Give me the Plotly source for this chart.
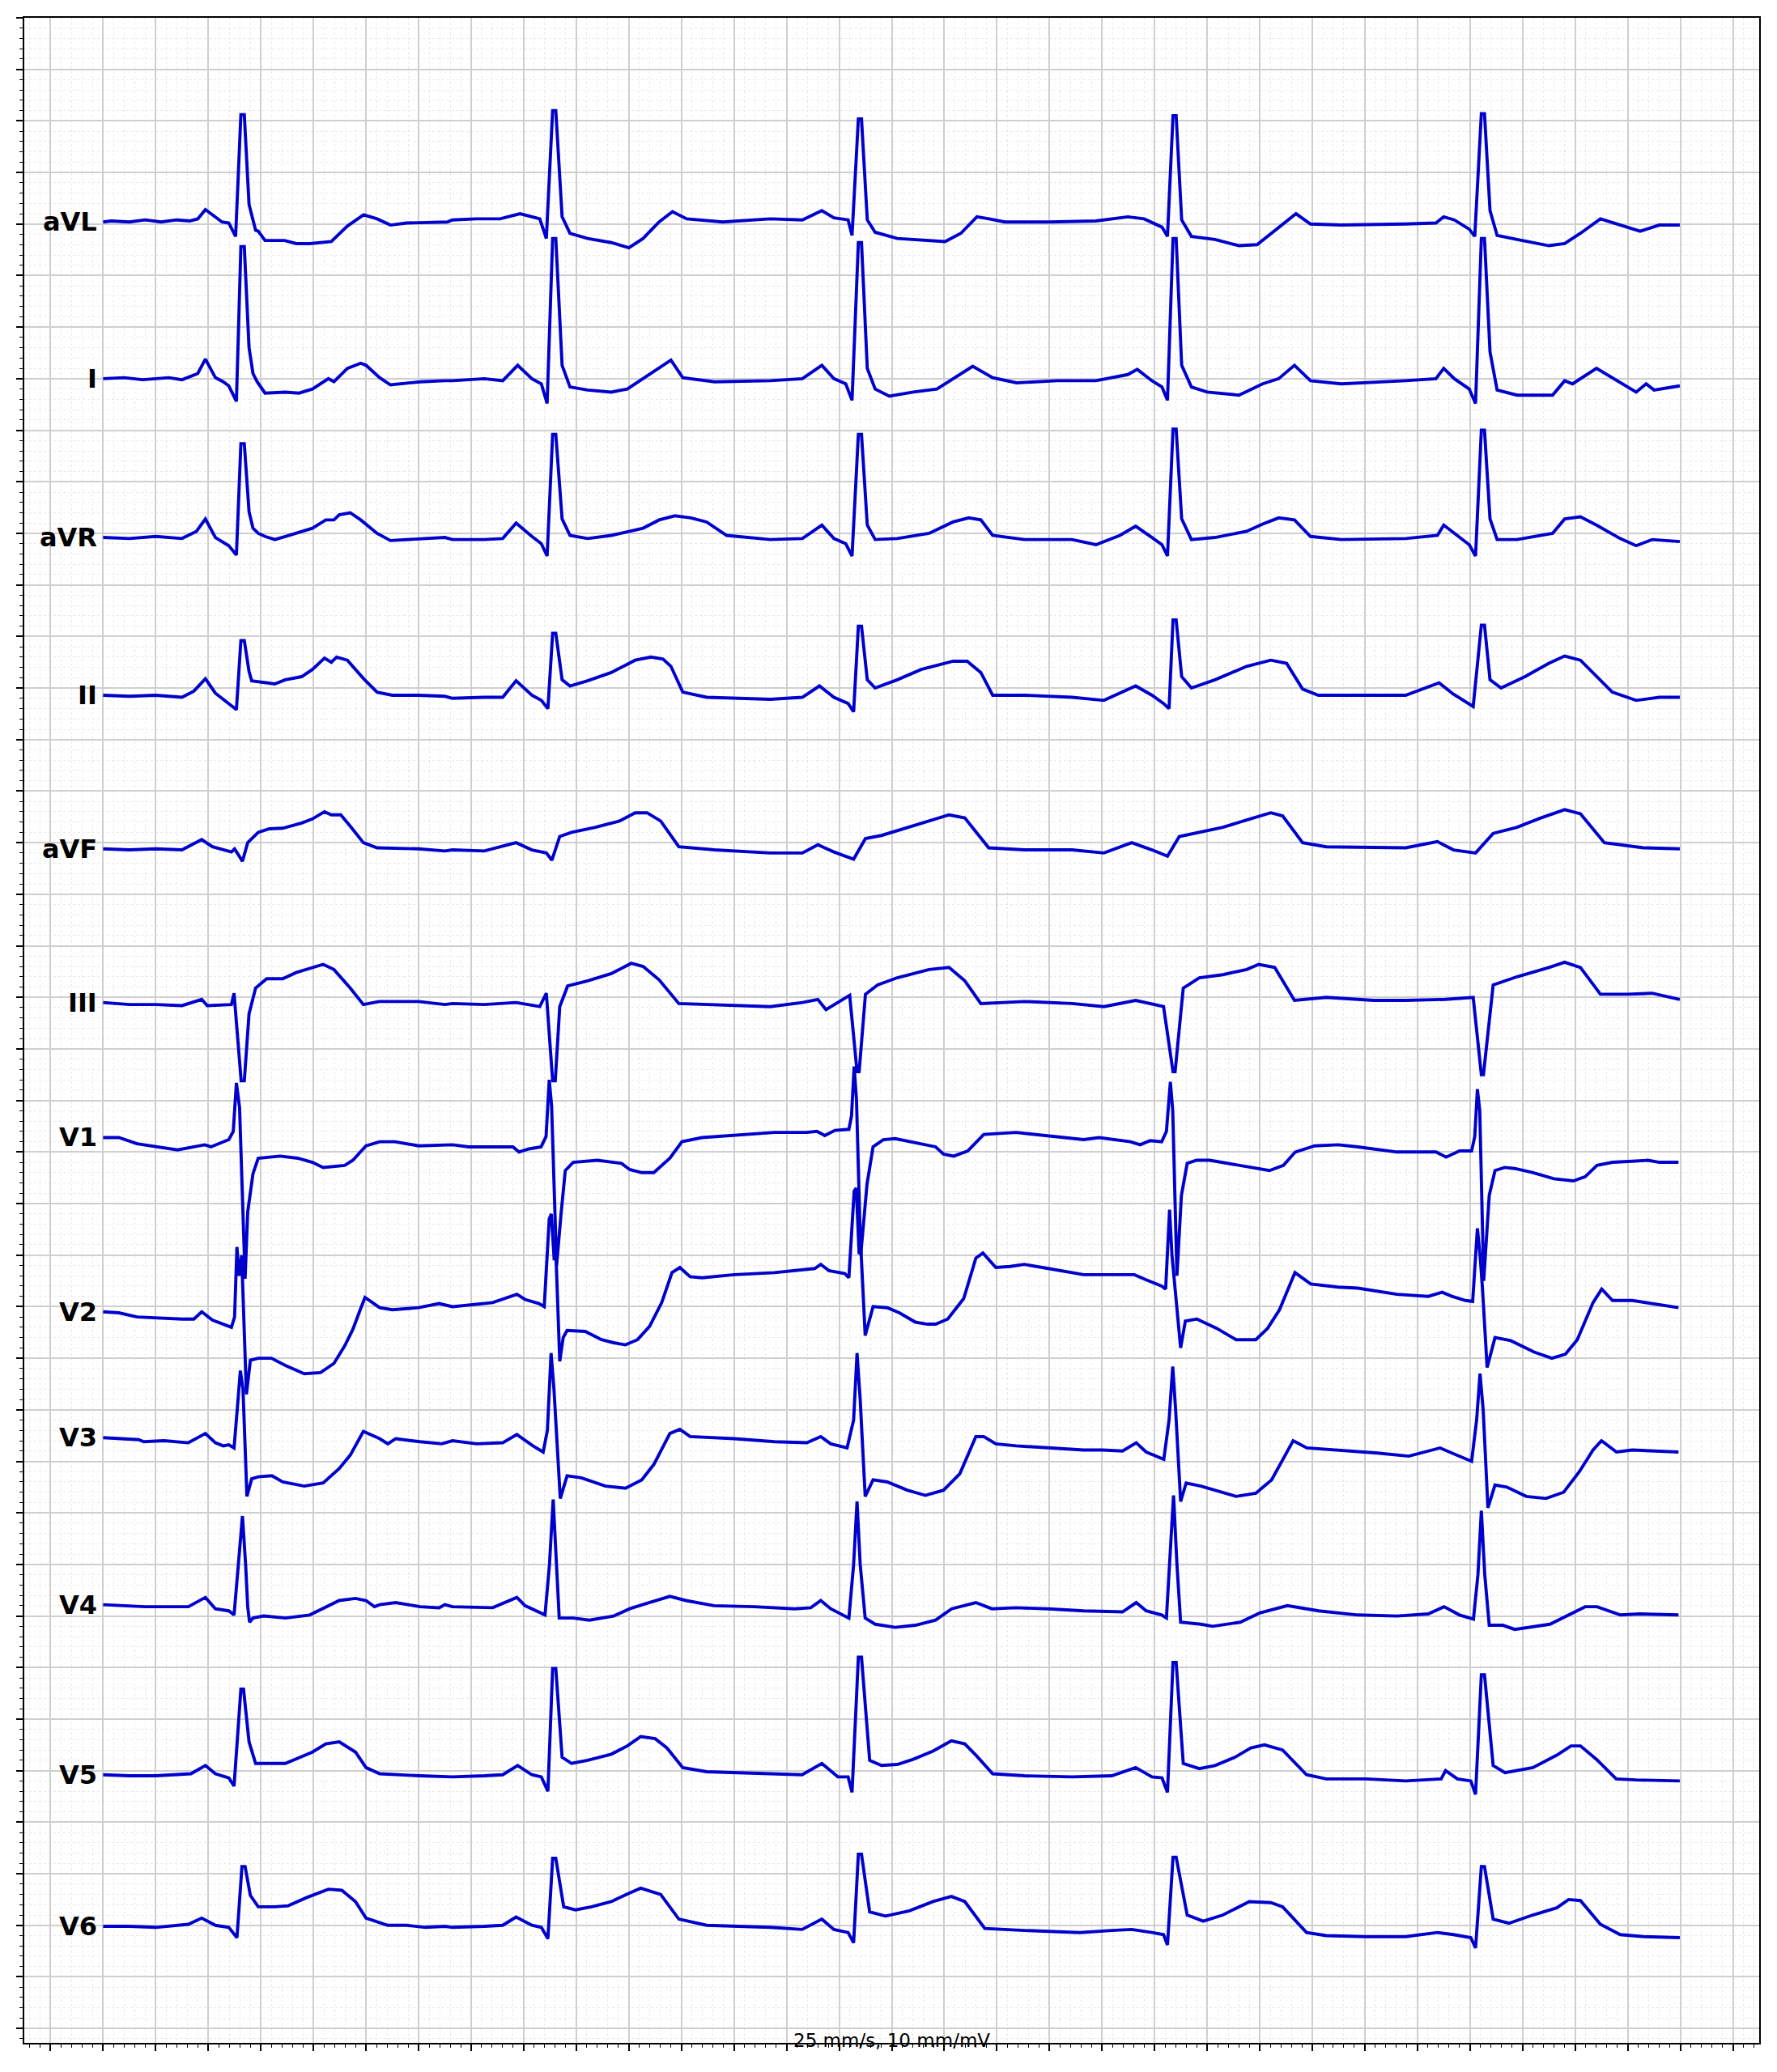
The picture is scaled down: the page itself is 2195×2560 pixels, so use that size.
import plotly.graph_objects as go

# 12-lead ECG strip, 25 mm/s, 10 mm/mV. values are (time s, mV)
lead_names = ["aVL", "I", "aVR", "II", "aVF", "III", "V1", "V2", "V3", "V4", "V5", "V6"]
lead_gap = 1.5  # mV between stacked leads

avl_pts = [
    (0, .02), (.03, .03), (.1, .02), (.16, .04), (.22, .02), (.28, .04), (.33, .03), (.36, .05), (.389, .14),
    (.427, .07), (.452, .02), (.478, .01), (.504, -.12), (.524, 1.06), (.537, 1.06), (.555, .19), (.58, -.06),
    (.59, -.07), (.616, -.16), (.69, -.16), (.735, -.19), (.786, -.19), (.868, -.17), (.929, -.02), (.991, .09),
    (1.042, .05), (1.093, -.01), (1.155, .01), (1.309, .02), (1.329, .04), (1.42, .05), (1.51, .05), (1.586, .10),
    (1.661, .05), (1.686, -.14), (1.71, 1.10), (1.722, 1.10), (1.746, .07), (1.776, -.09), (1.843, -.14),
    (1.933, -.18), (2.0, -.23), (2.054, -.14), (2.115, .02), (2.166, .12), (2.22, .05), (2.357, .02), (2.538, .05),
    (2.66, .04), (2.734, .13), (2.78, .06), (2.834, .04), (2.849, -.11), (2.873, 1.02), (2.885, 1.02), (2.907, .04),
    (2.937, -.08), (3.021, -.14), (3.08, -.15), (3.203, -.17), (3.263, -.09), (3.324, .07), (3.37, .05), (3.43, .02),
    (3.6, .02), (3.777, .03), (3.898, .07), (3.96, .05), (4.028, -.03), (4.049, -.12), (4.07, 1.05), (4.082, 1.05),
    (4.103, .04), (4.14, -.12), (4.23, -.15), (4.321, -.21), (4.39, -.2), (4.457, -.06), (4.538, .10), (4.593, 0),
    (4.71, -.01), (4.955, 0), (5.07, .01), (5.1, .07), (5.14, .04), (5.197, -.05), (5.218, -.12), (5.243, 1.07),
    (5.255, 1.07), (5.276, .13), (5.303, -.11), (5.379, -.15), (5.5, -.21), (5.56, -.19), (5.62, -.09), (5.696, .05),
    (5.771, -.01), (5.847, -.07), (5.92, -.01), (5.998, -.01),
]
i_pts = [
    (0, 0), (.08, .01), (.15, -.01), (.25, .01), (.3, -.01), (.36, .05), (.389, .19), (.427, .01), (.457, -.03),
    (.478, -.07), (.507, -.22), (.524, 1.28), (.537, 1.28), (.555, .30), (.57, .05), (.586, -.03), (.616, -.14),
    (.693, -.13), (.745, -.14), (.796, -.10), (.857, 0), (.878, -.03), (.929, .10), (.98, .15), (1.0, .13),
    (1.052, .01), (1.093, -.06), (1.206, -.03), (1.30, -.02), (1.329, -.02), (1.45, 0), (1.52, -.02), (1.577, .13),
    (1.631, 0), (1.667, -.05), (1.689, -.24), (1.71, 1.36), (1.722, 1.36), (1.746, .13), (1.776, -.08),
    (1.843, -.11), (1.933, -.13), (1.994, -.10), (2.054, 0), (2.115, .10), (2.16, .18), (2.205, .01), (2.326, -.03),
    (2.538, -.02), (2.66, 0), (2.734, .13), (2.78, 0), (2.825, -.05), (2.849, -.21), (2.873, 1.32), (2.885, 1.32),
    (2.907, .10), (2.937, -.10), (2.991, -.17), (3.082, -.13), (3.172, -.10), (3.233, 0), (3.308, .12),
    (3.384, .01), (3.475, -.04), (3.63, -.02), (3.777, -.02), (3.898, .04), (3.934, .09), (3.99, -.02),
    (4.028, -.08), (4.049, -.21), (4.07, 1.36), (4.082, 1.36), (4.103, .13), (4.14, -.08), (4.2, -.13),
    (4.321, -.16), (4.411, -.05), (4.472, 0), (4.532, .13), (4.593, -.02), (4.71, -.05), (4.955, -.02), (5.07, 0),
    (5.1, .10), (5.14, 0), (5.197, -.10), (5.221, -.24), (5.243, 1.36), (5.255, 1.36), (5.276, .26), (5.303, -.11),
    (5.379, -.16), (5.514, -.16), (5.56, -.02), (5.59, -.05), (5.681, .10), (5.741, .01), (5.832, -.13),
    (5.87, -.05), (5.9, -.11), (5.998, -.07),
]
avr_pts = [
    (0, -.04), (.1, -.05), (.2, -.03), (.3, -.05), (.355, .02), (.389, .14), (.427, -.04), (.478, -.12),
    (.507, -.21), (.524, .87), (.537, .87), (.555, .21), (.57, .05), (.59, 0), (.616, -.03), (.653, -.06),
    (.693, -.03), (.796, .05), (.847, .13), (.878, .13), (.898, .18), (.94, .20), (.98, .13), (1.042, 0),
    (1.093, -.07), (1.206, -.05), (1.30, -.04), (1.329, -.06), (1.45, -.06), (1.52, -.05), (1.571, .10),
    (1.631, -.03), (1.667, -.10), (1.689, -.22), (1.71, .96), (1.722, .96), (1.746, .14), (1.776, -.02),
    (1.843, -.05), (1.933, -.02), (2.054, .05), (2.115, .13), (2.175, .17), (2.236, .15), (2.296, .11),
    (2.372, -.02), (2.538, -.06), (2.66, -.05), (2.734, .08), (2.78, -.05), (2.825, -.10), (2.849, -.22),
    (2.873, .96), (2.885, .96), (2.907, .08), (2.937, -.06), (3.021, -.05), (3.142, 0), (3.233, .11), (3.293, .15),
    (3.339, .13), (3.384, -.02), (3.505, -.06), (3.686, -.06), (3.777, -.11), (3.868, -.02), (3.928, .07),
    (3.99, -.04), (4.028, -.11), (4.049, -.22), (4.07, 1.01), (4.082, 1.01), (4.103, .14), (4.14, -.06),
    (4.23, -.04), (4.35, .02), (4.411, .09), (4.472, .15), (4.532, .13), (4.593, -.03), (4.71, -.06),
    (4.955, -.05), (5.076, -.02), (5.1, .08), (5.152, -.02), (5.197, -.11), (5.221, -.22), (5.243, 1.0),
    (5.255, 1.0), (5.276, .14), (5.303, -.06), (5.379, -.06), (5.514, 0), (5.56, .14), (5.62, .16), (5.681, .08),
    (5.771, -.05), (5.832, -.12), (5.893, -.06), (5.998, -.08),
]
ii_pts = [
    (0, -.07), (.1, -.08), (.2, -.07), (.3, -.09), (.345, -.03), (.389, .09), (.427, -.05), (.478, -.15),
    (.507, -.21), (.524, .46), (.537, .46), (.555, .16), (.565, .07), (.653, .04), (.693, .08), (.755, .11),
    (.796, .18), (.842, .29), (.868, .25), (.888, .30), (.929, .27), (.991, .09), (1.042, -.04), (1.10, -.07),
    (1.2, -.07), (1.30, -.08), (1.329, -.10), (1.45, -.09), (1.52, -.09), (1.571, .07), (1.631, -.07),
    (1.667, -.12), (1.692, -.20), (1.71, .53), (1.722, .53), (1.746, .08), (1.776, .02), (1.843, .07),
    (1.933, .15), (2.024, .27), (2.084, .30), (2.13, .28), (2.16, .21), (2.205, -.04), (2.296, -.09),
    (2.538, -.11), (2.66, -.09), (2.725, .02), (2.78, -.09), (2.834, -.15), (2.855, -.23), (2.873, .60),
    (2.885, .60), (2.907, .08), (2.937, 0), (3.021, .08), (3.112, .18), (3.233, .26), (3.287, .26), (3.339, .15),
    (3.384, -.07), (3.505, -.07), (3.686, -.09), (3.807, -.12), (3.928, .02), (3.99, -.07), (4.034, -.15),
    (4.055, -.20), (4.07, .66), (4.082, .66), (4.103, .11), (4.14, 0), (4.23, .08), (4.35, .21), (4.442, .27),
    (4.502, .24), (4.563, -.01), (4.623, -.07), (4.804, -.07), (4.955, -.07), (5.082, .05), (5.137, -.06),
    (5.212, -.18), (5.243, .61), (5.255, .61), (5.276, .08), (5.318, 0), (5.409, .11), (5.5, .24), (5.56, .31),
    (5.62, .27), (5.681, .11), (5.741, -.04), (5.832, -.12), (5.92, -.09), (5.998, -.09),
]
avf_pts = [
    (0, -.06), (.1, -.07), (.2, -.06), (.3, -.07), (.375, .03), (.416, -.04), (.488, -.09), (.50, -.06),
    (.53, -.18), (.55, 0), (.59, .10), (.632, .135), (.683, .14), (.755, .19), (.796, .23), (.842, .30),
    (.868, .27), (.904, .27), (.94, .16), (.99, 0), (1.042, -.05), (1.2, -.06), (1.30, -.08), (1.329, -.07),
    (1.45, -.08), (1.571, 0), (1.631, -.07), (1.686, -.10), (1.707, -.17), (1.737, .06), (1.782, .10),
    (1.873, .15), (1.964, .21), (2.024, .29), (2.069, .29), (2.121, .21), (2.19, -.04), (2.326, -.07),
    (2.538, -.10), (2.66, -.10), (2.719, -.02), (2.78, -.09), (2.855, -.16), (2.9, .04), (2.961, .07),
    (3.052, .14), (3.142, .21), (3.218, .27), (3.278, .24), (3.369, -.05), (3.505, -.07), (3.686, -.07),
    (3.807, -.10), (3.913, 0), (3.99, -.07), (4.049, -.13), (4.094, .06), (4.17, .10), (4.26, .15), (4.35, .22),
    (4.442, .29), (4.487, .26), (4.563, 0), (4.653, -.04), (4.955, -.05), (5.076, .01), (5.137, -.07),
    (5.221, -.10), (5.288, .09), (5.379, .15), (5.469, .24), (5.56, .32), (5.62, .28), (5.711, 0), (5.80, -.03),
    (5.86, -.05), (5.998, -.06),
]
iii_pts = [
    (0, -.05), (.1, -.07), (.2, -.07), (.3, -.08), (.375, -.02), (.396, -.08), (.488, -.07), (.498, .04),
    (.525, -.81), (.537, -.81), (.555, -.16), (.58, .09), (.622, .18), (.683, .18), (.734, .24), (.796, .29),
    (.837, .32), (.878, .27), (.94, .09), (.99, -.07), (1.05, -.04), (1.2, -.04), (1.30, -.07), (1.329, -.06),
    (1.45, -.07), (1.571, -.05), (1.661, -.09), (1.686, .04), (1.71, -.81), (1.72, -.81), (1.737, -.09),
    (1.767, .11), (1.843, .16), (1.933, .23), (2.009, .33), (2.054, .30), (2.115, .17), (2.19, -.06),
    (2.326, -.07), (2.538, -.09), (2.66, -.05), (2.719, -.02), (2.75, -.12), (2.84, .02), (2.868, -.72),
    (2.876, -.72), (2.9, .03), (2.946, .12), (3.021, .19), (3.142, .27), (3.218, .29), (3.278, .16),
    (3.339, -.06), (3.505, -.04), (3.686, -.06), (3.807, -.09), (3.928, -.03), (4.034, -.09), (4.07, -.72),
    (4.078, -.72), (4.109, .09), (4.17, .19), (4.26, .22), (4.35, .27), (4.396, .32), (4.457, .29), (4.532, -.03),
    (4.653, 0), (4.834, -.03), (4.955, -.03), (5.106, -.02), (5.212, 0), (5.243, -.75), (5.251, -.75),
    (5.288, .12), (5.379, .20), (5.5, .29), (5.56, .34), (5.62, .29), (5.696, .03), (5.80, .03), (5.893, .04),
    (5.998, -.02),
]
v1_pts = [
    (0, .14), (.06, .14), (.129, .08), (.2, .05), (.283, .02), (.386, .07), (.41, .05), (.478, .12), (.495, .2),
    (.507, .67), (.519, .43), (.54, -1.23), (.55, -.58), (.57, -.21), (.59, -.06), (.673, -.04), (.74, -.06),
    (.796, -.10), (.837, -.15), (.919, -.13), (.95, -.08), (1.0, .06), (1.052, .10), (1.11, .10), (1.2, .06),
    (1.329, .07), (1.39, .05), (1.559, .05), (1.582, 0), (1.62, .03), (1.666, .05), (1.685, .15), (1.697, .70),
    (1.706, .45), (1.725, -1.10), (1.742, -.60), (1.758, -.18), (1.788, -.10), (1.88, -.08), (1.972, -.11),
    (2.003, -.17), (2.049, -.20), (2.095, -.20), (2.156, -.06), (2.202, .10), (2.278, .14), (2.401, .16),
    (2.554, .19), (2.677, .19), (2.715, .20), (2.745, .16), (2.784, .21), (2.837, .22), (2.847, .35),
    (2.857, .83), (2.866, .5), (2.882, -1.0), (2.906, -.31), (2.929, .05), (2.968, .12), (3.013, .13),
    (3.167, .05), (3.197, -.02), (3.236, -.04), (3.289, .01), (3.35, .17), (3.473, .19), (3.595, .16),
    (3.73, .12), (3.789, .14), (3.908, .10), (3.945, .07), (3.983, .11), (4.027, .10), (4.045, .2), (4.06, .68),
    (4.069, .4), (4.085, -1.2), (4.102, -.42), (4.124, -.11), (4.16, -.08), (4.21, -.08), (4.296, -.12),
    (4.40, -.17), (4.437, -.18), (4.49, -.13), (4.535, 0), (4.609, .06), (4.699, .07), (4.773, .05), (4.922, 0),
    (5.071, 0), (5.109, -.05), (5.16, .01), (5.206, .01), (5.218, .15), (5.228, .61), (5.237, .4), (5.252, -1.25),
    (5.273, -.42), (5.295, -.18), (5.332, -.15), (5.37, -.16), (5.44, -.20), (5.519, -.26), (5.593, -.28),
    (5.638, -.24), (5.683, -.13), (5.742, -.10), (5.817, -.09), (5.877, -.08), (5.92, -.10), (5.993, -.10),
]
v2_pts = [
    (0, -.05), (.06, -.06), (.129, -.10), (.2, -.11), (.3, -.12), (.345, -.12), (.375, -.05), (.416, -.13),
    (.457, -.17), (.488, -.20), (.50, -.1), (.509, .58), (.517, .30), (.527, .50), (.545, -.85), (.56, -.52),
    (.59, -.50), (.64, -.50), (.693, -.57), (.765, -.65), (.827, -.64), (.878, -.55), (.919, -.38), (.95, -.22),
    (.975, -.05), (.996, .09), (1.03, .03), (1.052, -.01), (1.1, -.03), (1.2, -.01), (1.278, .03), (1.329, 0),
    (1.482, .04), (1.574, .12), (1.605, .07), (1.658, .03), (1.678, 0), (1.697, .85), (1.705, .90), (1.716, .45),
    (1.722, .55), (1.737, -.53), (1.75, -.3), (1.765, -.23), (1.834, -.24), (1.896, -.32), (1.942, -.35),
    (1.987, -.37), (2.033, -.32), (2.079, -.19), (2.125, .04), (2.164, .33), (2.194, .38), (2.233, .29),
    (2.278, .28), (2.401, .31), (2.554, .33), (2.707, .37), (2.73, .41), (2.761, .35), (2.822, .32), (2.837, .28),
    (2.857, 1.12), (2.865, 1.15), (2.876, .51), (2.882, .6), (2.899, -.28), (2.929, 0), (2.983, -.01),
    (3.029, -.06), (3.09, -.15), (3.136, -.17), (3.167, -.17), (3.213, -.12), (3.274, .08), (3.32, .47),
    (3.347, .52), (3.396, .38), (3.45, .39), (3.504, .41), (3.595, .37), (3.73, .31), (3.789, .31), (3.923, .31),
    (3.968, .26), (4.027, .20), (4.042, .17), (4.057, .94), (4.066, .5), (4.075, .24), (4.099, -.40),
    (4.117, -.14), (4.161, -.12), (4.236, -.21), (4.31, -.32), (4.385, -.32), (4.43, -.21), (4.475, -.03),
    (4.534, .33), (4.594, .22), (4.698, .19), (4.773, .18), (4.922, .12), (5.041, .10), (5.094, .14),
    (5.131, .10), (5.183, .06), (5.21, .05), (5.228, .76), (5.238, .5), (5.247, .19), (5.265, -.59),
    (5.295, -.30), (5.355, -.33), (5.444, -.44), (5.511, -.50), (5.563, -.46), (5.608, -.32), (5.668, .04),
    (5.701, .17), (5.742, .06), (5.817, .06), (5.892, .03), (5.993, -.01),
]
v3_pts = [
    (0, .23), (.078, .22), (.135, .21), (.155, .19), (.232, .20), (.324, .18), (.389, .27), (.427, .18),
    (.457, .15), (.478, .16), (.498, .13), (.51, .5), (.522, .88), (.532, .7), (.547, -.34), (.565, -.17),
    (.59, -.15), (.642, -.14), (.683, -.20), (.765, -.24), (.837, -.21), (.898, -.07), (.94, .06), (.99, .29),
    (1.02, .26), (1.052, .22), (1.083, .17), (1.113, .22), (1.206, .19), (1.288, .17), (1.329, .20),
    (1.421, .17), (1.52, .18), (1.574, .26), (1.635, .15), (1.674, .09), (1.69, .3), (1.704, 1.05), (1.715, .7),
    (1.739, -.36), (1.765, -.14), (1.819, -.16), (1.911, -.24), (1.987, -.26), (2.049, -.18), (2.095, -.03),
    (2.156, .27), (2.194, .31), (2.233, .24), (2.401, .22), (2.554, .19), (2.677, .18), (2.73, .24),
    (2.768, .17), (2.83, .13), (2.855, .4), (2.868, 1.05), (2.88, .6), (2.899, -.34), (2.929, -.18),
    (2.983, -.20), (3.059, -.28), (3.128, -.33), (3.197, -.28), (3.259, -.12), (3.32, .24), (3.35, .24),
    (3.396, .17), (3.473, .15), (3.595, .13), (3.73, .11), (3.80, .11), (3.878, .10), (3.93, .18), (3.968, .09),
    (4.035, .02), (4.055, .4), (4.069, .92), (4.08, .5), (4.099, -.39), (4.12, -.21), (4.176, -.24),
    (4.251, -.30), (4.31, -.34), (4.385, -.31), (4.445, -.18), (4.497, .06), (4.527, .20), (4.579, .13),
    (4.698, .11), (4.847, .08), (4.967, .05), (5.086, .13), (5.131, .08), (5.206, 0), (5.225, .4), (5.238, .85),
    (5.25, .5), (5.268, -.45), (5.295, -.23), (5.34, -.25), (5.414, -.34), (5.489, -.36), (5.556, -.30),
    (5.616, -.10), (5.668, .11), (5.70, .20), (5.757, .09), (5.817, .11), (5.993, .09),
]
v4_pts = [
    (0, .11), (.129, .10), (.16, .09), (.324, .09), (.355, .135), (.389, .18), (.427, .07), (.478, .05),
    (.498, .01), (.515, .5), (.53, .97), (.542, .5), (.55, .09), (.557, -.06), (.57, -.02), (.611, 0),
    (.693, -.02), (.786, .01), (.837, .07), (.898, .15), (.96, .17), (1.0, .15), (1.032, .09), (1.052, .11),
    (1.113, .13), (1.206, .09), (1.278, .08), (1.30, .11), (1.329, .09), (1.482, .08), (1.574, .18), (1.605, .10),
    (1.681, .01), (1.698, .5), (1.712, 1.13), (1.724, .5), (1.735, -.02), (1.788, -.02), (1.85, -.04),
    (1.942, 0), (2.003, .07), (2.064, .12), (2.156, .19), (2.217, .15), (2.324, .10), (2.477, .09), (2.631, .07),
    (2.692, .08), (2.73, .15), (2.768, .07), (2.837, -.02), (2.855, .5), (2.868, 1.11), (2.88, .5), (2.899, -.02),
    (2.937, -.08), (3.013, -.11), (3.09, -.09), (3.167, -.04), (3.228, .07), (3.32, .13), (3.381, .07),
    (3.473, .08), (3.595, .07), (3.73, .05), (3.878, .04), (3.93, .13), (3.968, .05), (4.027, .01),
    (4.045, -.02), (4.058, .5), (4.072, 1.17), (4.085, .5), (4.099, -.06), (4.176, -.08), (4.221, -.10),
    (4.326, -.06), (4.40, .03), (4.505, .10), (4.624, .05), (4.773, .01), (4.922, 0), (5.041, .02), (5.101, .09),
    (5.16, .01), (5.213, -.03), (5.23, .4), (5.243, 1.02), (5.256, .4), (5.273, -.09), (5.325, -.09),
    (5.37, -.13), (5.504, -.08), (5.578, .01), (5.638, .09), (5.683, .09), (5.772, .01), (5.847, .02),
    (5.993, .01),
]
v5_pts = [
    (0, -.04), (.1, -.05), (.2, -.05), (.334, -.03), (.389, .05), (.427, -.03), (.478, -.07), (.498, -.15),
    (.524, .79), (.534, .79), (.555, .28), (.58, .07), (.611, .07), (.693, .07), (.796, .18), (.847, .26),
    (.898, .28), (.96, .18), (1.0, .03), (1.052, -.03), (1.206, -.05), (1.30, -.06), (1.329, -.06), (1.45, -.05),
    (1.52, -.04), (1.577, .05), (1.631, -.04), (1.667, -.06), (1.692, -.20), (1.71, .99), (1.722, .99),
    (1.746, .13), (1.782, .07), (1.843, .10), (1.933, .16), (1.994, .24), (2.045, .33), (2.10, .31), (2.145, .22),
    (2.205, .03), (2.296, -.01), (2.417, -.02), (2.538, -.03), (2.659, -.04), (2.734, .07), (2.795, -.06),
    (2.834, -.06), (2.849, -.21), (2.873, 1.10), (2.885, 1.10), (2.916, .10), (2.961, .05), (3.021, .06),
    (3.082, .11), (3.157, .19), (3.227, .29), (3.278, .26), (3.324, .14), (3.384, -.03), (3.505, -.05),
    (3.686, -.06), (3.837, -.05), (3.928, .03), (3.99, -.06), (4.028, -.07), (4.049, -.21), (4.07, 1.05),
    (4.082, 1.05), (4.109, .07), (4.17, .02), (4.23, .05), (4.306, .13), (4.366, .22), (4.418, .25), (4.487, .20),
    (4.578, -.04), (4.653, -.08), (4.804, -.08), (4.955, -.10), (5.09, -.08), (5.107, 0), (5.152, -.08),
    (5.203, -.10), (5.221, -.23), (5.243, .93), (5.255, .93), (5.288, .05), (5.333, -.02), (5.439, .03),
    (5.53, .15), (5.584, .24), (5.62, .24), (5.681, .11), (5.756, -.08), (5.832, -.09), (5.998, -.10),
]
v6_pts = [
    (0, -.01), (.1, -.01), (.2, -.02), (.324, .01), (.375, .07), (.427, 0), (.478, -.02), (.509, -.12),
    (.528, .57), (.54, .57), (.56, .29), (.59, .18), (.653, .18), (.704, .19), (.775, .27), (.816, .31),
    (.857, .35), (.908, .34), (.96, .23), (1.0, .07), (1.083, 0), (1.155, 0), (1.226, -.02), (1.30, -.01),
    (1.329, -.02), (1.45, -.01), (1.52, 0), (1.571, .08), (1.631, 0), (1.667, -.02), (1.692, -.13), (1.71, .65),
    (1.722, .65), (1.752, .18), (1.797, .15), (1.858, .18), (1.933, .23), (2.0, .31), (2.045, .36), (2.121, .30),
    (2.19, .06), (2.296, 0), (2.538, -.02), (2.659, -.04), (2.734, .06), (2.78, -.04), (2.834, -.07),
    (2.855, -.17), (2.873, .69), (2.885, .69), (2.916, .13), (2.976, .09), (3.067, .14), (3.157, .23),
    (3.227, .28), (3.278, .23), (3.354, -.03), (3.505, -.05), (3.716, -.07), (3.837, -.05), (3.913, -.04),
    (3.99, -.07), (4.034, -.09), (4.049, -.19), (4.07, .66), (4.082, .66), (4.124, .10), (4.185, .04),
    (4.26, .10), (4.36, .23), (4.442, .22), (4.487, .18), (4.578, -.07), (4.653, -.10), (4.804, -.11),
    (4.955, -.11), (5.076, -.07), (5.137, -.09), (5.203, -.12), (5.221, -.22), (5.243, .57), (5.255, .57),
    (5.288, .06), (5.348, .02), (5.439, .10), (5.53, .17), (5.575, .25), (5.62, .24), (5.696, .01),
    (5.771, -.09), (5.862, -.11), (5.998, -.12),
]

leads = [avl_pts, i_pts, avr_pts, ii_pts, avf_pts, iii_pts,
         v1_pts, v2_pts, v3_pts, v4_pts, v5_pts, v6_pts]

y_min, y_max = -17.64, 2.0

fig = go.Figure()
for k, (name, pts) in enumerate(zip(lead_names, leads)):
    base = -lead_gap * k
    fig.add_trace(go.Scatter(
        x=[p[0] for p in pts],
        y=[p[1] + base for p in pts],
        mode="lines",
        line=dict(color="#0000cd", width=3.9),
        hoverinfo="skip",
        showlegend=False,
    ))
    fig.add_annotation(
        x=0, y=base + pts[0][1], xref="x", yref="y",
        text=name, showarrow=False, xanchor="right", yanchor="middle", xshift=-5,
        font=dict(family="DejaVu Sans", size=32, color="black", weight="bold"),
    )

fig.add_annotation(
    x=3.0, y=y_min, xref="x", yref="y", text="25 mm/s, 10 mm/mV",
    showarrow=False, xanchor="center", yanchor="bottom", yshift=-12,
    font=dict(family="DejaVu Sans", size=23, color="black"),
)

axis_style = dict(
    showgrid=True, gridcolor="#cfcfcf", gridwidth=2,
    zeroline=False, showticklabels=False,
    ticks="outside", ticklen=8, tickwidth=1.6, tickcolor="black",
    showline=True, linecolor="black", linewidth=2, mirror=True,
)
fig.update_xaxes(
    range=[-0.3, 6.3], tick0=0, dtick=0.2,
    minor=dict(tick0=0, dtick=0.04, showgrid=True, gridcolor="#e9e9e9", gridwidth=1, griddash="dot",
               ticks="outside", ticklen=4, tickwidth=1.2, tickcolor="black"),
    **axis_style,
)
fig.update_yaxes(
    range=[y_min, y_max], tick0=0, dtick=0.5,
    minor=dict(tick0=0, dtick=0.1, showgrid=True, gridcolor="#e9e9e9", gridwidth=1, griddash="dot",
               ticks="outside", ticklen=4, tickwidth=1.2, tickcolor="black"),
    **axis_style,
)

fig.update_layout(
    width=2179, height=2536,
    margin=dict(l=22, r=14, t=14, b=15),
    paper_bgcolor="white", plot_bgcolor="white",
    font=dict(family="DejaVu Sans"),
)

fig.write_html("out.html")
